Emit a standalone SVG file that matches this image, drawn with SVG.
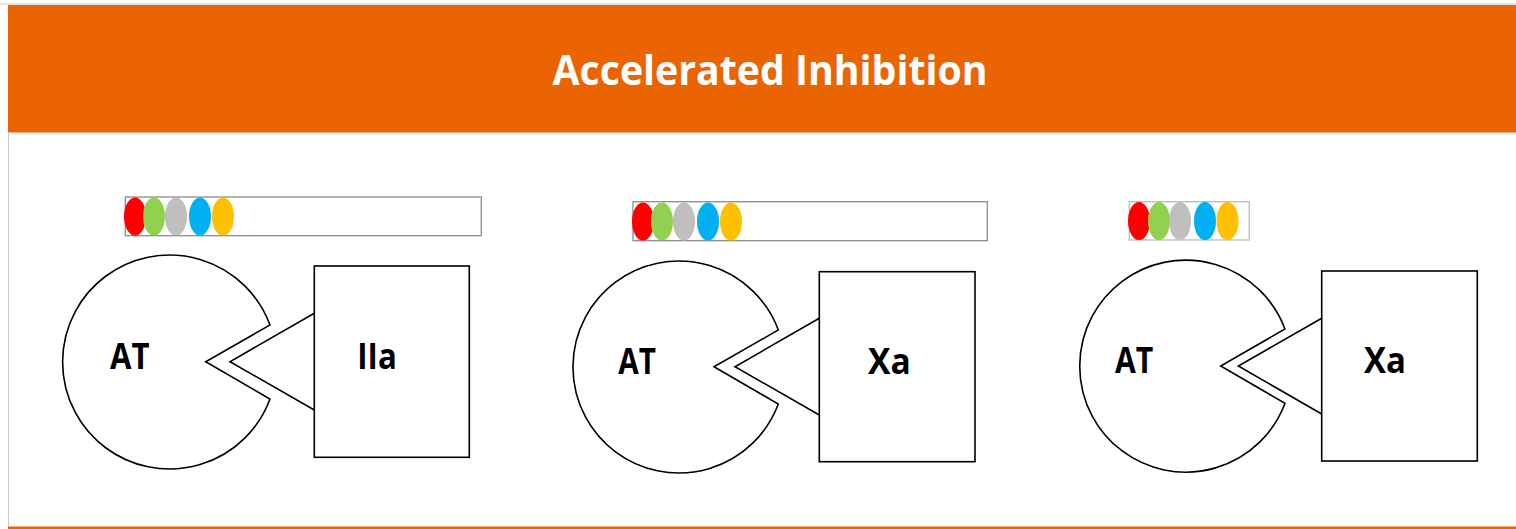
<svg xmlns="http://www.w3.org/2000/svg" width="1516" height="529" viewBox="0 0 1516 529">
<style>
.ln{fill:#fff;stroke:#000;stroke-width:1.6;stroke-linejoin:miter}
.bar{fill:#fff;stroke:#8c8c8c;stroke-width:1.3}
.lbl{font-family:"Open Sans","Liberation Sans",sans-serif;font-weight:700;font-size:35px;fill:#000}
.title{font-family:"Open Sans","Liberation Sans",sans-serif;font-weight:700;font-size:41px;fill:#fff}
.r{fill:#FF0000}.g{fill:#92D050}.s{fill:#BFBFBF}.b{fill:#00B0F0}.y{fill:#FFC000}
</style>
<rect width="1516" height="529" fill="#fff"/>
<g id="frame">
<line x1="0" y1="4" x2="1516" y2="4" stroke="#c8c8c8" stroke-width="1.2"/>
<rect x="8" y="5" width="1508" height="127.5" fill="#EA6501"/>
<line x1="8.5" y1="132" x2="8.5" y2="527" stroke="#c8c8c8" stroke-width="1"/>
<rect x="8" y="526.5" width="1508" height="2.5" fill="#EA6501"/>
<text class="title" x="770" y="85" text-anchor="middle" textLength="435" lengthAdjust="spacingAndGlyphs">Accelerated Inhibition</text>
</g>
<g id="connectors"/>
<g id="chain1">
<rect class="bar" x="125.3" y="197" width="356" height="38.7"/>
<ellipse class="r" cx="135" cy="216.5" rx="11" ry="19"/>
<ellipse class="g" cx="154" cy="216.5" rx="11" ry="19"/>
<ellipse class="s" cx="176" cy="216.5" rx="11" ry="19"/>
<ellipse class="b" cx="200" cy="216.5" rx="11" ry="19"/>
<ellipse class="y" cx="223" cy="216.5" rx="11" ry="19"/>
</g>
<g id="at1">
<path class="ln" d="M270,325 A107,107 0 1 0 270,399 L205.7,361.7 Z"/>
<text class="lbl" x="110" y="369" textLength="39.5" lengthAdjust="spacingAndGlyphs">AT</text>
</g>
<g id="iia">
<path class="ln" d="M314.3,313.3 L230,361.7 L314.3,410"/>
<rect class="ln" x="314.3" y="266" width="155" height="191.3"/>
<text class="lbl" x="357.3" y="369" textLength="39.5" lengthAdjust="spacingAndGlyphs">IIa</text>
</g>
<g id="chain2">
<rect class="bar" x="633" y="201.7" width="354.3" height="39"/>
<ellipse class="r" cx="643" cy="221.5" rx="11" ry="19"/>
<ellipse class="g" cx="662" cy="221.5" rx="11" ry="19"/>
<ellipse class="s" cx="684" cy="221.5" rx="11" ry="19"/>
<ellipse class="b" cx="708" cy="221.5" rx="11" ry="19"/>
<ellipse class="y" cx="731" cy="221.5" rx="11" ry="19"/>
</g>
<g id="at2">
<path class="ln" d="M778.3,330 A106,106 0 1 0 778.3,404 L714,366.7 Z"/>
<text class="lbl" x="618.3" y="374.3" textLength="37.7" lengthAdjust="spacingAndGlyphs">AT</text>
</g>
<g id="xa2">
<path class="ln" d="M819.3,318.3 L735,366.7 L819.3,415"/>
<rect class="ln" x="819.3" y="271.7" width="155.7" height="190"/>
<text class="lbl" x="868" y="374.3" textLength="42.7" lengthAdjust="spacingAndGlyphs">Xa</text>
</g>
<g id="chain3">
<rect class="bar" x="1129.3" y="201.7" width="120" height="38.3" style="stroke:#bbb"/>
<ellipse class="r" cx="1139" cy="221" rx="11" ry="19"/>
<ellipse class="g" cx="1159" cy="221" rx="11" ry="19"/>
<ellipse class="s" cx="1180" cy="221" rx="11" ry="19"/>
<ellipse class="b" cx="1205" cy="221" rx="11" ry="19"/>
<ellipse class="y" cx="1227.5" cy="221" rx="11" ry="19"/>
</g>
<g id="at3">
<path class="ln" d="M1285,329 A106,106 0 1 0 1285,403.3 L1220.7,366 Z"/>
<text class="lbl" x="1115" y="373.3" textLength="38.3" lengthAdjust="spacingAndGlyphs">AT</text>
</g>
<g id="xa3">
<path class="ln" d="M1321.7,318.3 L1238.3,366 L1321.7,414"/>
<rect class="ln" x="1321.7" y="271" width="155.6" height="190"/>
<text class="lbl" x="1364" y="373.3" textLength="42" lengthAdjust="spacingAndGlyphs">Xa</text>
</g>
</svg>
